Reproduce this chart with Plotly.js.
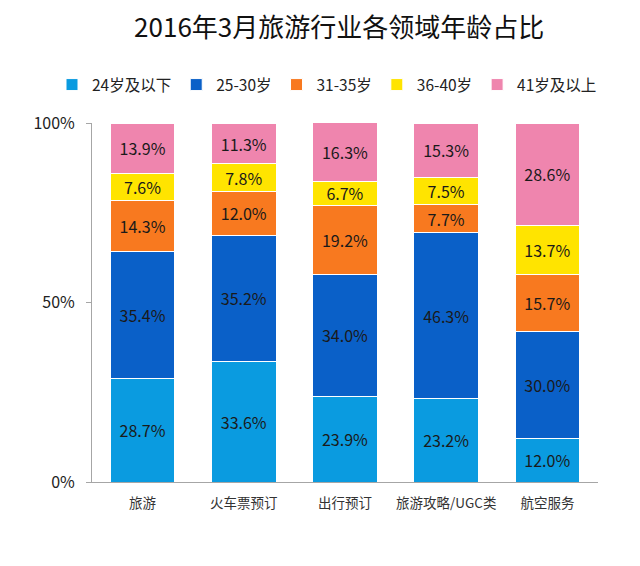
<!DOCTYPE html>
<html>
<head>
<meta charset="utf-8">
<script src="https://cdn.plot.ly/plotly-3.0.1.min.js"></script>
<style>html,body{margin:0;padding:0;background:#fff;}#chart{width:640px;height:566px;}</style>
</head>
<body>
<div id="chart"></div>
<script>
const categories = ["旅游", "火车票预订", "出行预订", "旅游攻略/UGC类", "航空服务"];
const seriesNames = ["24岁及以下", "25-30岁", "31-35岁", "36-40岁", "41岁及以上"];
const age24 = [28.7, 33.6, 23.9, 23.2, 12.0];
const age25_30 = [35.4, 35.2, 34.0, 46.3, 30.0];
const age31_35 = [14.3, 12.0, 19.2, 7.7, 15.7];
const age36_40 = [7.6, 7.8, 6.7, 7.5, 13.7];
const age41 = [13.9, 11.3, 16.3, 15.3, 28.6];
const yTicks = [0, 50, 100];
const yTickLabels = ["0%", "50%", "100%"];

const seriesValues = [age24, age25_30, age31_35, age36_40, age41];
const colors = ["#0a9be0", "#0a60c8", "#f8791f", "#ffe400", "#ef85ae"];
const FONT = '"Noto Sans CJK SC", "Noto Sans", sans-serif';

const traces = seriesValues.map((vals, i) => ({
  type: "bar",
  name: seriesNames[i],
  x: categories,
  y: vals,
  text: vals.map(v => v.toFixed(1) + "%"),
  textposition: "inside",
  insidetextanchor: "middle",
  constraintext: "none",
  textfont: {family: FONT, size: 16, color: "#1a1a1a"},
  hoverinfo: "x+y+name",
  marker: {color: colors[i], line: {color: "#ffffff", width: 1}}
}));

const layout = {
  width: 640, height: 566,
  margin: {l: 92, r: 42, t: 123, b: 84},
  paper_bgcolor: "#ffffff", plot_bgcolor: "#ffffff",
  font: {family: FONT, color: "#222"},
  title: {text: "2016年3月旅游行业各领域年龄占比", x: 0.53, xanchor: "center", y: 1 - 28 / 566, yanchor: "middle",
          font: {family: FONT, size: 26, color: "#111"}},
  barmode: "stack",
  bargap: 0.36,
  showlegend: true,
  legend: {orientation: "h", xref: "paper", yref: "paper",
           x: (52 - 92) / 506, xanchor: "left",
           y: 1 + (123 - 85) / 359, yanchor: "middle",
           font: {family: FONT, size: 15.5, color: "#222"}, traceorder: "normal",
           itemwidth: 30},
  xaxis: {
    showline: true, linecolor: "#a6a6a6", linewidth: 1,
    ticks: "outside", ticklen: 9, tickcolor: "rgba(0,0,0,0)",
    showgrid: false, zeroline: false,
    tickfont: {family: FONT, size: 13.5, color: "#333"}, fixedrange: true
  },
  yaxis: {
    range: [0, 100], tickvals: yTicks, ticktext: yTickLabels,
    showline: true, linecolor: "#a6a6a6", linewidth: 1,
    ticks: "outside", ticklen: 5, tickcolor: "#a6a6a6",
    ticklabelstandoff: 8,
    showgrid: false, zeroline: false,
    tickfont: {family: FONT, size: 16, color: "#222"}, fixedrange: true
  }
};

Plotly.newPlot("chart", traces, layout, {displayModeBar: false, staticPlot: true});
</script>
</body>
</html>
